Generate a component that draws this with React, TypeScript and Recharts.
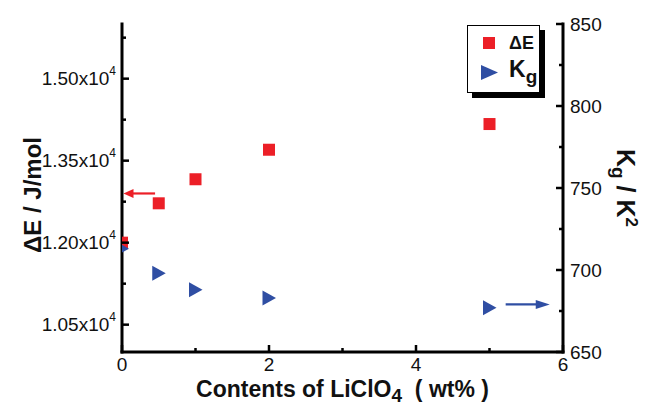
import React from "react";
import { Legend, ReferenceLine, Scatter, ScatterChart, XAxis, YAxis } from "recharts";

// LiClO4 content (wt%)
const contents = [0, 0.5, 1, 2, 5];
// activation energy, J/mol (left axis)
const deltaE = [12000, 12720, 13160, 13700, 14170];
// Kg, K^2 (right axis)
const kg = [713, 698, 688, 683, 677];

const xTicks = [0, 1, 2, 3, 4, 5, 6];
const xLabels = [0, 2, 4, 6];
const leftTicks = [10500, 11250, 12000, 12750, 13500, 14250, 15000, 15750];
const leftLabels = [10500, 12000, 13500, 15000];
const rightTicks = [650, 675, 700, 725, 750, 775, 800, 825, 850];
const rightLabels = [650, 700, 750, 800, 850];

// arrows pointing to the axis each series belongs to
const redArrow = [{ x: 0.45, y: 12900 }, { x: 0.02, y: 12900 }];
const blueArrow = [{ x: 5.22, y: 679 }, { x: 5.82, y: 679 }];

const RED = "#ec1f27";
const BLUE = "#2f4ea3";
const FONT = '"Liberation Sans", Arial, Helvetica, sans-serif';

const deData = contents.map((x, i) => ({ x, y: deltaE[i] }));
const kgData = contents.map((x, i) => ({ x, y: kg[i] }));

const TS = 6;
const X_MIN = 0;

// points sitting on the left axis are cut by the frame, only the inner half shows
const clipped = (id: string, p: any, el: React.ReactNode) => {
  if (p.payload?.x > X_MIN) return el;
  const cid = `edge-${id}-${Math.round(p.cy)}`;
  return (
    <g>
      <defs>
        <clipPath id={cid}>
          <rect x={p.cx} y={p.cy - 12} width={24} height={24} />
        </clipPath>
      </defs>
      <g clipPath={`url(#${cid})`}>{el}</g>
    </g>
  );
};

const Square = (p: any) =>
  clipped("sq", p, <rect x={p.cx - 6} y={p.cy - 6} width={12} height={12} fill={RED} />);

const Triangle = (p: any) =>
  clipped(
    "tri",
    p,
    <polygon
      points={`${p.cx - 6.5},${p.cy - 7.5} ${p.cx - 6.5},${p.cy + 7.5} ${p.cx + 7},${p.cy}`}
      fill={BLUE}
    />
  );

const XTick = (p: any) => {
  const v = p.payload.value;
  const axisY = p.y - TS;
  const major = xLabels.includes(v);
  return (
    <g>
      <line x1={p.x} x2={p.x} y1={axisY} y2={axisY - (major ? 7 : 4)} stroke="#000" strokeWidth={2.5} />
      {major && (
        <text x={p.x} y={p.y} dy="0.71em" textAnchor="middle" fontSize={19} fontFamily={FONT} fill="#111">
          {v}
        </text>
      )}
    </g>
  );
};

const LeftTick = (p: any) => {
  const v = p.payload.value;
  const axisX = p.x + TS;
  const major = leftLabels.includes(v);
  return (
    <g>
      <line x1={axisX} x2={axisX + (major ? 7 : 4)} y1={p.y} y2={p.y} stroke="#000" strokeWidth={2.5} />
      {major && (
        <text x={p.x} y={p.y} dominantBaseline="central" textAnchor="end" fontSize={19} fontFamily={FONT} fill="#111">
          {(v / 10000).toFixed(2)}x10
          <tspan dy={-8} fontSize={12}>4</tspan>
        </text>
      )}
    </g>
  );
};

const RightTick = (p: any) => {
  const v = p.payload.value;
  const axisX = p.x - TS - 1;
  const major = rightLabels.includes(v);
  return (
    <g>
      <line x1={axisX} x2={axisX - (major ? 7 : 4)} y1={p.y} y2={p.y} stroke="#000" strokeWidth={2.5} />
      {major && (
        <text x={p.x} y={p.y} dominantBaseline="central" textAnchor="start" fontSize={19} fontFamily={FONT} fill="#111">
          {v}
        </text>
      )}
    </g>
  );
};

const arrow = (color: string, head: number) => (p: any) => {
  const { x1, y1, x2, y2 } = p;
  const dir = x2 > x1 ? 1 : -1;
  return (
    <g>
      <line x1={x1} y1={y1} x2={x2 - dir * head * 0.8} y2={y2} stroke={color} strokeWidth={2.2} />
      <polygon points={`${x2},${y2} ${x2 - dir * head},${y2 - 4.5} ${x2 - dir * head},${y2 + 4.5}`} fill={color} />
    </g>
  );
};

const XTitle = (p: any) => {
  const vb = p.viewBox;
  return (
    <text x={vb.x + vb.width / 2} y={397} textAnchor="middle" fontSize={23} fontWeight="bold" fontFamily={FONT} fill="#111">
      Contents of LiClO
      <tspan dy={5} fontSize={19}>4</tspan>
      <tspan dy={-5}>{"\u00a0\u00a0( wt% )"}</tspan>
    </text>
  );
};

const LeftTitle = () => (
  <text x={41} y={195} transform="rotate(-90 41 195)" textAnchor="middle" fontSize={24} fontWeight="bold" fontFamily={FONT} fill="#111">
    ΔE / J/mol
  </text>
);

const RightTitle = () => (
  <text x={617} y={188} transform="rotate(90 617 188)" textAnchor="middle" fontSize={25} fontWeight="bold" fontFamily={FONT} fill="#111">
    K<tspan dy={5} fontSize={19}>g</tspan>
    <tspan dy={-5}>{" / K"}</tspan>
    <tspan dy={-9} fontSize={17}>2</tspan>
  </text>
);

const LegendBox = () => (
  <svg width={79} height={74} style={{ display: "block" }}>
    <rect x={5} y={5} width={73} height={68} fill="#000" />
    <rect x={0.5} y={0.5} width={72} height={67} fill="#fff" stroke="#000" strokeWidth={1} />
    <rect x={16} y={12} width={12} height={12} fill={RED} />
    <text x={42} y={24} fontSize={18} fontWeight="bold" fontFamily={FONT} fill="#111">ΔE</text>
    <polygon points="14,40 14,55 31,47.5" fill={BLUE} />
    <text x={42} y={52} fontSize={23} fontWeight="bold" fontFamily={FONT} fill="#111">
      K<tspan dy={6} fontSize={19}>g</tspan>
    </text>
  </svg>
);

const axisLine = { stroke: "#000", strokeWidth: 3, strokeLinecap: "square" as const };

export default function App() {
  return (
    <div style={{ position: "absolute", left: 0, top: 0, width: 646, height: 405, background: "#fff" }}>
      <ScatterChart width={646} height={405} margin={{ top: 24, right: 0, bottom: 0, left: 0 }}>
        <XAxis
          xAxisId="x"
          dataKey="x"
          type="number"
          domain={[X_MIN, 6]}
          ticks={xTicks}
          interval={0}
          height={53}
          tickSize={TS}
          tickMargin={0}
          tickLine={false}
          axisLine={axisLine}
          tick={XTick}
          label={XTitle}
        />
        <XAxis xAxisId="top" orientation="top" type="number" domain={[X_MIN, 6]} height={0} tick={false} tickLine={false} axisLine={axisLine} />
        <YAxis
          yAxisId="left"
          dataKey="y"
          type="number"
          domain={[10000, 16000]}
          ticks={leftTicks}
          interval={0}
          width={122}
          tickSize={TS}
          tickMargin={0}
          tickLine={false}
          axisLine={axisLine}
          tick={LeftTick}
          label={LeftTitle}
        />
        <YAxis
          yAxisId="right"
          orientation="right"
          dataKey="y"
          type="number"
          domain={[650, 850]}
          ticks={rightTicks}
          interval={0}
          width={83}
          tickSize={TS}
          tickMargin={1}
          tickLine={false}
          axisLine={axisLine}
          tick={RightTick}
          label={RightTitle}
        />
        <Scatter name="ΔE" data={deData} xAxisId="x" yAxisId="left" fill={RED} shape={Square} isAnimationActive={false} />
        <Scatter name="Kg" data={kgData} xAxisId="x" yAxisId="right" fill={BLUE} shape={Triangle} isAnimationActive={false} />
        <ReferenceLine xAxisId="x" yAxisId="left" segment={redArrow} shape={arrow(RED, 10)} />
        <ReferenceLine xAxisId="x" yAxisId="right" segment={blueArrow} shape={arrow(BLUE, 14)} />
        <Legend
          layout="vertical"
          align="center"
          verticalAlign="middle"
          wrapperStyle={{ left: 467, top: 25, width: 79, height: 74 }}
          content={LegendBox}
        />
      </ScatterChart>
    </div>
  );
}
